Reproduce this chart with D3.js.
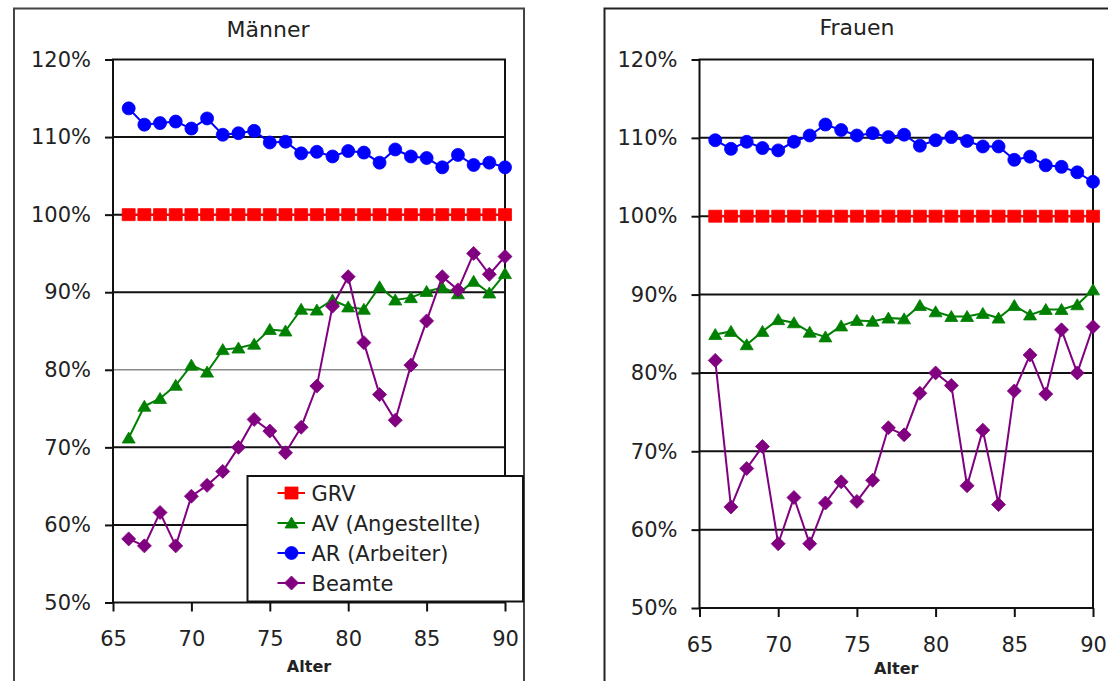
<!DOCTYPE html>
<html>
<head>
<meta charset="utf-8">
<script src="https://cdn.jsdelivr.net/npm/d3@7"></script>
<style>
  html, body { margin: 0; padding: 0; background: #fff; }
  svg { display: block; font-family: "DejaVu Sans", sans-serif; }
</style>
</head>
<body>
<svg id="chart" width="1108" height="681"></svg>
<script>
// ---------- DATA ----------
const ages = [66,67,68,69,70,71,72,73,74,75,76,77,78,79,80,81,82,83,84,85,86,87,88,89,90];
const xTicks = [65,70,75,80,85,90];
const yTicks = [50,60,70,80,90,100,110,120];
const seriesNames = ["GRV", "AV (Angestellte)", "AR (Arbeiter)", "Beamte"];
const panelTitles = ["Männer", "Frauen"];
const axisTitle = "Alter";

const menGRV    = [100,100,100,100,100,100,100,100,100,100,100,100,100,100,100,100,100,100,100,100,100,100,100,100,100];
const menAV     = [71.2,75.3,76.3,78.0,80.6,79.7,82.6,82.8,83.3,85.2,85.0,87.8,87.7,89.0,88.1,87.8,90.7,89.0,89.3,90.1,90.6,89.8,91.4,89.9,92.4];
const menAR     = [113.7,111.6,111.8,112.0,111.1,112.4,110.3,110.5,110.8,109.3,109.4,107.9,108.1,107.5,108.2,108.0,106.7,108.4,107.5,107.3,106.1,107.7,106.4,106.7,106.1];
const menBeamte = [58.2,57.3,61.6,57.3,63.7,65.1,66.9,70.0,73.6,72.1,69.3,72.6,77.9,88.2,92.0,83.5,76.8,73.5,80.6,86.3,92.0,90.3,95.0,92.3,94.6];

const womenGRV    = [100,100,100,100,100,100,100,100,100,100,100,100,100,100,100,100,100,100,100,100,100,100,100,100,100];
const womenAV     = [84.9,85.3,83.6,85.3,86.8,86.4,85.2,84.6,86.0,86.7,86.6,87.0,86.9,88.6,87.8,87.2,87.2,87.6,87.0,88.6,87.4,88.1,88.1,88.7,90.6];
const womenAR     = [109.7,108.6,109.5,108.7,108.4,109.5,110.3,111.7,111.0,110.3,110.6,110.1,110.4,109.0,109.7,110.1,109.6,108.9,108.9,107.2,107.6,106.5,106.3,105.6,104.4];
const womenBeamte = [81.6,62.9,67.8,70.6,58.2,64.1,58.2,63.4,66.1,63.6,66.3,73.0,72.1,77.4,80.0,78.4,65.6,72.7,63.2,77.7,82.3,77.3,85.5,80.0,85.9];

// ---------- STYLE ----------
const colors = ["#ff0000", "#008000", "#0000ff", "#800080"];
const shapes = ["square", "triangle", "circle", "diamond"];
const textColor = "#222";

const svg = d3.select("#chart");

// outer frames
svg.append("rect").attr("x", 14).attr("y", 8.5).attr("width", 510).attr("height", 720)
  .attr("fill", "none").attr("stroke", "#444").attr("stroke-width", 2);
svg.append("rect").attr("x", 604.5).attr("y", 8.5).attr("width", 600).attr("height", 720)
  .attr("fill", "none").attr("stroke", "#222").attr("stroke-width", 2);

function markerPath(shape) {
  switch (shape) {
    case "square":   return "M-6.5,-6L6.5,-6L6.5,6L-6.5,6Z";
    case "triangle": return "M0,-6L6.5,5L-6.5,5Z";
    case "diamond":  return "M0,-7L7,0L0,7L-7,0Z";
    default:         return d3.symbol(d3.symbolCircle, Math.PI * 6.5 * 6.5)();
  }
}

const panels = [
  { title: panelTitles[0], data: [menGRV, menAV, menAR, menBeamte],
    x0: 113, x1: 505, yTop: 59.5, yBot: 602.5,
    titleX: 268, titleY: 36.5, xLabPad: 20, alterY: 671.5, greyGrid: [80], legend: true },
  { title: panelTitles[1], data: [womenGRV, womenAV, womenAR, womenBeamte],
    x0: 699.5, x1: 1093, yTop: 59.5, yBot: 608,
    titleX: 857, titleY: 35, xLabPad: 20, alterY: 673.5, greyGrid: [], legend: false }
];

panels.forEach(p => {
  const x = d3.scaleLinear().domain([65, 90]).range([p.x0, p.x1]);
  const y = d3.scaleLinear().domain([50, 120]).range([p.yBot, p.yTop]);
  const g = svg.append("g");

  // gridlines
  g.selectAll("line.grid").data(yTicks.filter(v => v > 50 && v < 120)).join("line")
    .attr("x1", p.x0).attr("x2", p.x1)
    .attr("y1", d => y(d)).attr("y2", d => y(d))
    .attr("stroke", d => p.greyGrid.includes(d) ? "#8a8a8a" : "#111")
    .attr("stroke-width", d => p.greyGrid.includes(d) ? 1.5 : 2);

  // plot frame
  g.append("rect").attr("x", p.x0).attr("y", y(120))
    .attr("width", p.x1 - p.x0).attr("height", y(50) - y(120))
    .attr("fill", "none").attr("stroke", "#111").attr("stroke-width", 2);

  // y axis
  const yAxis = d3.axisLeft(y).tickValues(yTicks).tickSize(8).tickSizeOuter(0)
    .tickPadding(14).tickFormat(d => d + "%");
  const ya = g.append("g").attr("transform", `translate(${p.x0},0)`).call(yAxis);
  ya.select(".domain").remove();
  ya.selectAll("line").attr("stroke", "#111").attr("stroke-width", 2);
  ya.selectAll("text").attr("font-size", 21).attr("fill", textColor)
    .attr("font-family", "DejaVu Sans, sans-serif");

  // x axis
  const xAxis = d3.axisBottom(x).tickValues(xTicks).tickSize(9).tickSizeOuter(0)
    .tickPadding(p.xLabPad).tickFormat(d3.format("d"));
  const xa = g.append("g").attr("transform", `translate(0,${p.yBot})`).call(xAxis);
  xa.select(".domain").remove();
  xa.selectAll("line").attr("stroke", "#111").attr("stroke-width", 2);
  xa.selectAll("text").attr("font-size", 21).attr("fill", textColor)
    .attr("font-family", "DejaVu Sans, sans-serif");

  // titles
  g.append("text").attr("x", p.titleX).attr("y", p.titleY).attr("text-anchor", "middle")
    .attr("font-size", 22).attr("fill", textColor).text(p.title);
  g.append("text").attr("x", (p.x0 + p.x1) / 2).attr("y", p.alterY).attr("text-anchor", "middle")
    .attr("font-size", 16).attr("font-weight", "bold").attr("fill", textColor).text(axisTitle);

  // series
  p.data.forEach((vals, si) => {
    const pts = ages.map((a, i) => [a, vals[i]]);
    g.append("path").datum(pts)
      .attr("d", d3.line().x(d => x(d[0])).y(d => y(d[1])))
      .attr("fill", "none").attr("stroke", colors[si]).attr("stroke-width", 2);
    g.selectAll(null).data(pts).join("path")
      .attr("transform", d => `translate(${x(d[0])},${y(d[1])})`)
      .attr("d", markerPath(shapes[si]))
      .attr("fill", colors[si]).attr("stroke", colors[si]).attr("stroke-width", 0.8);
  });

  // legend
  if (p.legend) {
    const lg = svg.append("g");
    lg.append("rect").attr("x", 247.5).attr("y", 476).attr("width", 275.5).attr("height", 125.5)
      .attr("fill", "#fff").attr("stroke", "#111").attr("stroke-width", 2);
    seriesNames.forEach((name, i) => {
      const cy = 493 + i * 30;
      lg.append("line").attr("x1", 277.5).attr("x2", 305).attr("y1", cy).attr("y2", cy)
        .attr("stroke", colors[i]).attr("stroke-width", 2);
      lg.append("path").attr("transform", `translate(291.5,${cy})`).attr("d", markerPath(shapes[i]))
        .attr("fill", colors[i]).attr("stroke", colors[i]).attr("stroke-width", 0.8);
      lg.append("text").attr("x", 311.5).attr("y", cy).attr("dy", "0.36em")
        .attr("font-size", 21).attr("fill", textColor).text(name);
    });
  }
});
</script>
</body>
</html>
